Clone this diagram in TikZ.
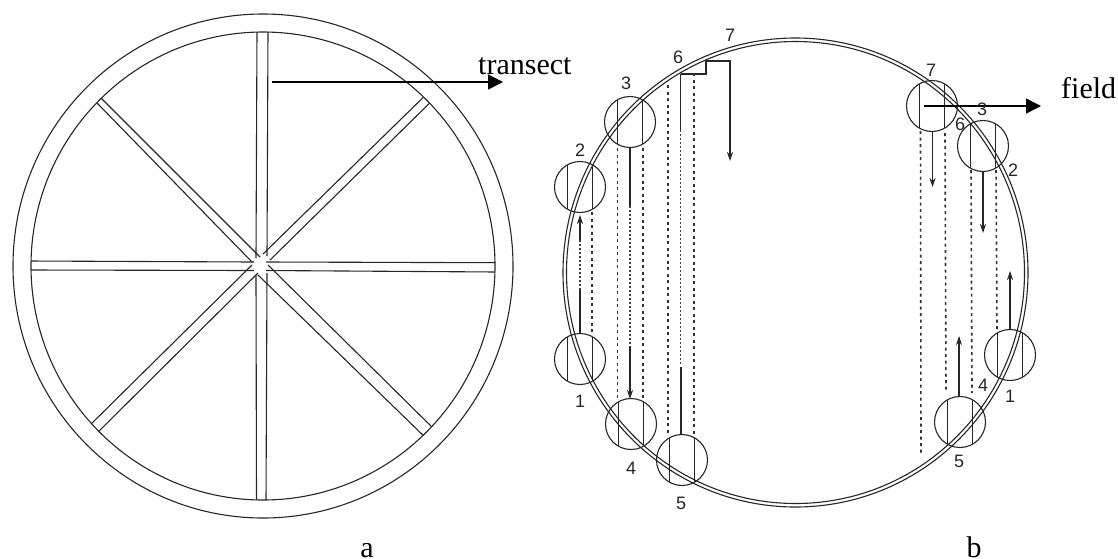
\documentclass[tikz,border=0pt]{standalone}
\usepackage{fontspec}
\setmainfont{Liberation Serif}
\newfontfamily\numfont{Liberation Sans}
\usetikzlibrary{arrows.meta}
\tikzset{
  ink/.style={line width=1.1pt,draw=black!85},
  dashline/.style={line width=1.6pt,draw=black!80,dash pattern=on 3pt off 3.5pt},
  dotline/.style={line width=1.4pt,draw=black!75,dash pattern=on 1.5pt off 2.5pt},
  solidline/.style={line width=1.2pt,draw=black!85},
  tip/.style={-{Stealth[length=9pt,width=6pt]}},
  bigtip/.style={line width=1.3pt,draw=black,-{Triangle[length=15pt,width=15pt]}},
  num/.style={font=\numfont\fontsize{18}{18}\selectfont,text=black!85,inner sep=0pt},
  word/.style={font=\fontsize{30}{30}\selectfont,inner sep=0pt}
}
\newcommand{\sample}[3]{% centre x, y, name
  \node[circle,draw=black!85,line width=1.1pt,minimum size=51pt,inner sep=0pt] (#3) at (#1,#2) {};
  \draw[ink] (#1-12.5,#2-22.2) -- (#1-12.5,#2+22.2);
  \draw[ink] (#1+12.5,#2-22.2) -- (#1+12.5,#2+22.2);
}
\begin{document}
\begin{tikzpicture}[x=1pt,y=-1pt]
\useasboundingbox (0,0) rectangle (1118,558);
% figure a
\draw[ink] (263,266) ellipse [x radius=250,y radius=252];
\draw[ink] (263,266) ellipse [x radius=232,y radius=234];
\begin{scope}
\clip (263,266) ellipse [x radius=232,y radius=234];
\draw[ink] (257,30) -- (256,258) (268,30) -- (267,256);
\draw[ink] (256,275) -- (256.5,503) (267,273) -- (266,503);
\draw[ink] (29,261) -- (254,262) (29,270) -- (254,270.5);
\draw[ink] (266,262) -- (497,262.7) (266,270.5) -- (497,272);
\draw[ink] (260,257) -- (60,57) (252,262) -- (60,65);
\draw[ink] (263,254) -- (439,82) (270,260) -- (446,87);
\draw[ink] (252,265) -- (82,433) (258,273) -- (90,440);
\draw[ink] (268,265) -- (440,435) (258,275) -- (430,442);
\end{scope}
\coordinate (ta) at (272,82);
\coordinate (tb) at (503,82);
\draw[bigtip] (ta) -- (tb);
\node[word,anchor=base west] (transect) at (478,74) {transect};
\node[word,anchor=base] (a) at (367,557) {a};
\node[word,anchor=base] (b) at (974,557) {b};
% figure b
\draw[ink] (795.5,272.5) ellipse [x radius=232.5,y radius=234.5];
\draw[ink] (795.5,272.5) ellipse [x radius=229,y radius=231];
\sample{580}{187}{c2}
\sample{630}{122}{c3}
\sample{580}{359}{c1}
\sample{631}{424}{c4}
\sample{682}{460}{c5}
\sample{932}{106}{d7}
\sample{983}{146}{d3}
\sample{1010}{355}{d1}
\sample{960}{422}{d5}
% left passes
\draw[dashline] (592,212) -- (592,333);
\draw[dashline] (617.5,148) -- (617.5,400);
\draw[dashline] (643,148) -- (643,400);
\draw[dashline] (668,85) -- (668,433);
\draw[dashline] (694,73) -- (694,435);
\draw[solidline,tip] (580,240) -- (580,215);
\draw[dotline] (580,240) -- (580,290);
\draw[solidline] (580,290) -- (580,333);
\draw[solidline] (630,147) -- (630,206);
\draw[dotline] (630,206) -- (630,347);
\draw[solidline,tip] (630,347) -- (630,399);
\draw[solidline] (680.5,74) -- (680.5,130);
\draw[dotline] (680.5,130) -- (680.5,365);
\draw[solidline] (681,367) -- (681,435);
\draw[solidline,tip] (680.5,74) -- (706,74) -- (706,61) -- (730,61) -- (730,161);
% right passes
\draw[dashline] (920.5,131) -- (921,455);
\draw[dashline] (945,133) -- (946,392);
\draw[dashline] (971,170) -- (972,393);
\draw[dashline] (996,170) -- (997,330);
\draw[solidline,tip] (932.5,132) -- (932.5,187);
\draw[solidline,tip] (983,171) -- (983,233);
\draw[solidline,tip] (1010,330) -- (1010,271);
\draw[solidline,tip] (959,396) -- (959,336);
\coordinate (fa) at (924,106);
\coordinate (fb) at (1041,106);
\draw[bigtip] (fa) -- (fb);
\node[word,anchor=base west] (field) at (1061,98) {field};
% numbers
\node[num] (n1) at (580,401) {1};
\node[num] (n2) at (580,150) {2};
\node[num] (n3) at (626,83) {3};
\node[num] (n4) at (631,468) {4};
\node[num] (n5) at (681,503) {5};
\node[num] (n6) at (678,57) {6};
\node[num] (n7) at (730,35) {7};
\node[num] (m7) at (931,70) {7};
\node[num] (m3) at (982,109) {3};
\node[num] (m6) at (960,124) {6};
\node[num] (m2) at (1013,170) {2};
\node[num] (m4) at (983,385) {4};
\node[num] (m1) at (1010,396) {1};
\node[num] (m5) at (959,461) {5};
\end{tikzpicture}
\end{document}
